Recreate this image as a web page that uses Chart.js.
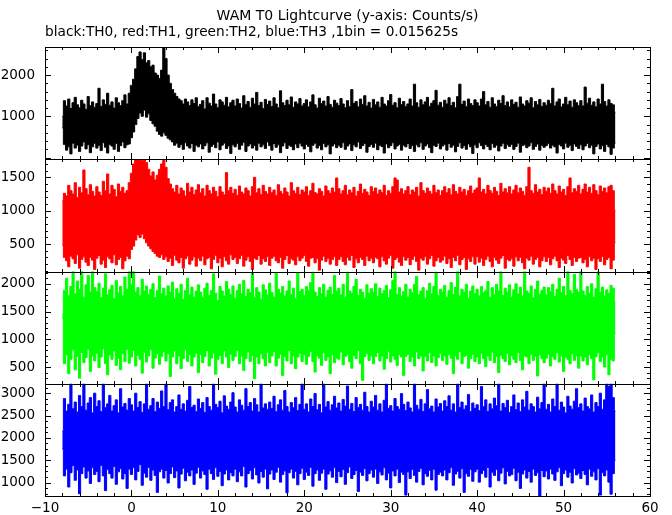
<!DOCTYPE html>
<html>
<head>
<meta charset="utf-8">
<script src="https://cdn.jsdelivr.net/npm/chart.js@4.4.1/dist/chart.umd.min.js"></script>
<style>
  html, body { margin: 0; padding: 0; background: #ffffff; }
  #wrap { position: relative; width: 672px; height: 515px; background: #ffffff; }
</style>
</head>
<body>
<div id="wrap"><canvas id="c" width="672" height="515"></canvas></div>
<script>
// ---------------- DATA ----------------
const TITLE = 'WAM T0 Lightcurve (y-axis: Counts/s)';
const SUBTITLE = 'black:TH0, red:TH1, green:TH2, blue:TH3 ,1bin = 0.015625s';

// light curve re-binned to 0.25 s columns; for each column the highest and lowest
// count rate seen in the picture (counts/s). First column at t = -8 s.
const T_START = -8;
const T_STEP = 0.25;

const th0High = [
1000,1380,1250,1420,1190,1330,1460,1280,1210,1390,1300,1170,1480,1260,1350,1220,
1310,1680,1240,1400,1290,1560,1270,1350,1200,1450,1330,1260,1380,1520,1300,1560,
1750,1900,2150,2450,2560,2380,2540,2300,2350,2200,2240,2050,2000,1920,2120,2680,
2400,2000,1800,1650,1560,1480,1420,1380,1300,1420,1350,1260,1400,1310,1450,1240,
1290,1380,1180,1450,1320,1250,1540,1300,1210,1400,1350,1270,1460,1230,1330,1390,
1250,1420,1310,1200,1500,1280,1360,1220,1440,1300,1580,1260,1340,1190,1410,1290,
1370,1240,1450,1300,1210,1620,1330,1260,1390,1280,1470,1220,1350,1300,1430,1250,
1310,1400,1230,1350,1520,1280,1200,1440,1310,1370,1250,1480,1290,1220,1390,1320,
1260,1430,1300,1210,1380,1240,1650,1310,1360,1230,1420,1290,1500,1250,1340,1200,
1410,1280,1350,1220,1460,1300,1250,1380,1530,1270,1330,1210,1440,1290,1360,1240,
1300,1420,1250,1780,1330,1220,1400,1280,1350,1460,1240,1320,1380,1630,1270,1340,
1220,1390,1300,1450,1260,1340,1210,1480,1780,1290,1370,1240,1420,1310,1260,1400,
1330,1250,1420,1600,1280,1360,1220,1450,1300,1240,1390,1310,1500,1260,1350,1230,
1400,1290,1340,1220,1470,1300,1250,1380,1320,1450,1210,1360,1280,1410,1240,1330,
1270,1390,1310,1680,1250,1350,1420,1230,1300,1460,1280,1370,1220,1400,1330,1260,
1380,1250,1710,1320,1440,1270,1350,1230,1420,1300,1780,1360,1250,1400,1310,1280,
1100
];
const th0Low = [
720,320,180,260,90,350,230,300,150,280,380,210,310,120,260,340,
230,300,170,360,250,110,320,280,200,340,150,290,380,240,310,330,
480,620,800,950,1080,1000,1150,980,1060,900,820,760,640,560,520,600,
540,470,430,380,300,350,250,320,200,360,280,230,340,150,300,260,
330,210,290,360,130,270,320,240,380,190,300,350,220,280,100,310,
260,340,200,300,370,150,280,330,230,290,180,350,260,310,220,380,
290,180,340,250,310,120,280,360,220,300,270,190,330,240,350,280,
210,320,270,140,300,350,230,290,190,340,260,310,90,280,330,240,
300,250,360,200,280,330,170,310,260,380,220,290,340,130,270,320,
250,350,190,300,270,110,330,240,290,360,210,280,320,180,300,260,
340,220,290,150,310,260,360,200,280,330,240,120,300,270,350,210,
280,320,180,340,250,300,140,270,360,230,290,200,330,260,100,310,
240,360,290,210,320,270,190,340,250,300,160,280,350,220,310,270,
320,200,270,350,130,290,310,240,280,360,200,270,330,180,300,250,
290,340,230,300,260,110,320,280,210,350,250,300,170,330,270,220,
310,190,280,340,240,300,90,270,330,210,290,150,320,260,80,230,
350
];

const th1High = [
1150,1260,1220,1380,1300,1250,1420,1200,1350,1270,1610,1330,1240,1390,1290,1220,
1360,1280,1230,1440,1300,1550,1250,1380,1320,1210,1400,1290,1350,1260,1300,1420,
1560,1700,1770,1770,1770,1750,1770,1720,1620,1520,1580,1460,1530,1620,1700,1760,
1650,1480,1400,1330,1280,1380,1250,1340,1300,1220,1410,1280,1350,1240,1310,1390,
1270,1330,1220,1380,1300,1250,1350,1290,1210,1360,1280,1240,1570,1300,1350,1260,
1320,1230,1370,1280,1250,1340,1300,1220,1360,1500,1270,1330,1240,1380,1290,1250,
1350,1270,1310,1230,1390,1290,1250,1340,1280,1220,1420,1300,1260,1350,1240,1310,
1280,1360,1230,1300,1410,1270,1250,1330,1290,1220,1370,1300,1260,1340,1280,1490,
1330,1250,1300,1380,1240,1310,1270,1350,1220,1290,1400,1260,1320,1280,1230,1360,
1290,1340,1250,1310,1270,1380,1230,1300,1260,1360,1490,1460,1280,1330,1250,1300,
1360,1240,1310,1280,1350,1220,1420,1300,1260,1340,1290,1250,1380,1270,1310,1230,
1300,1360,1270,1330,1240,1390,1290,1250,1350,1280,1320,1230,1300,1370,1260,1310,
1340,1490,1280,1320,1250,1380,1300,1260,1350,1290,1230,1410,1280,1330,1270,1360,
1250,1310,1380,1270,1340,1290,1230,1360,1650,1300,1260,1390,1280,1320,1240,1350,
1290,1340,1260,1400,1300,1250,1370,1280,1320,1230,1360,1490,1270,1330,1290,1380,
1250,1320,1400,1280,1350,1260,1390,1300,1240,1370,1290,1340,1270,1360,1380,1300,
1000
];
const th1Low = [
480,300,250,160,320,280,210,340,140,270,310,230,180,300,260,120,
290,330,200,260,150,310,280,220,340,190,270,300,130,250,320,280,
420,470,560,640,600,650,580,520,470,430,390,360,320,300,340,270,
310,240,290,180,330,260,220,300,140,280,320,200,260,310,170,290,
250,320,190,280,300,130,270,330,220,290,160,310,250,200,340,270,
300,210,280,330,170,260,310,240,120,290,270,330,200,280,240,310,
180,290,320,250,220,300,140,270,330,210,280,260,190,310,250,290,
330,240,170,290,300,220,280,110,260,320,240,290,200,270,310,180,
270,310,240,190,300,260,330,150,280,220,300,270,180,320,250,290,
220,300,280,160,310,250,200,290,330,140,270,300,230,180,310,260,
300,190,270,320,240,110,290,260,310,200,280,330,170,250,300,230,
260,320,210,280,150,300,250,330,190,270,300,120,280,240,310,200,
310,230,290,180,270,320,240,160,300,260,210,290,330,140,270,250,
280,170,310,250,300,220,130,290,260,320,200,270,300,160,250,310,
240,300,190,280,320,250,150,290,260,210,330,270,180,300,240,290,
300,220,270,160,310,250,290,120,280,240,310,190,270,300,130,260,
520
];

const th2High = [
1450,1880,2100,1790,1950,2220,1820,2050,1900,2220,1760,1980,2150,1850,2220,1930,
1860,2010,1750,1920,2180,1800,1890,1970,1730,2060,1840,1950,1780,2120,1900,2220,
1990,2220,1850,1930,1780,2080,1870,1960,1810,1900,2000,1750,1880,2140,1820,1920,
1780,1960,1850,2030,1740,1910,1830,1990,1720,1880,2100,1800,1940,1760,1870,1980,
1850,1760,1920,2010,1790,1880,2180,1830,1700,1950,1870,1780,2040,1900,1810,1960,
1740,1880,1990,1820,2060,1770,1900,1840,2200,1760,1930,1850,1720,1980,1890,1800,
2010,1840,1760,2190,1900,1830,1950,1780,1870,2050,1810,1920,1740,2200,1860,1900,
1790,1950,1880,2020,2210,1850,1770,1930,1820,1990,1760,1880,1940,1810,2150,1870,
1920,1800,1990,1760,2210,1870,1830,1950,2080,1790,1900,1850,1740,1980,1830,1910,
1850,2000,1770,1920,1820,1880,1970,1750,1890,2060,2220,1810,1930,1780,1860,1990,
1760,1900,1840,1990,2130,1800,1870,1930,1740,1880,2010,1820,1950,2210,1790,1900,
1850,1970,1760,1880,2020,1810,1940,2220,1780,1900,1850,1990,1740,1870,1960,1820,
1900,1780,1950,1840,1880,2040,1760,1930,1810,1990,1870,2220,1790,1920,1850,1980,
1760,1890,2000,1820,1940,1780,2220,1870,1830,1960,1750,1900,2050,1810,1880,1940,
1800,1930,1860,1990,1770,1900,2100,1840,1950,1790,2220,1880,1820,2170,1900,1850,
2220,1870,1790,1950,1830,2000,1760,1910,2220,1850,1940,1780,1890,1830,1970,1920,
1660
];
const th2Low = [
1380,560,720,380,640,810,450,690,300,760,580,670,820,420,700,610,
750,490,680,830,560,360,720,640,790,530,660,450,740,600,820,570,
680,800,520,710,640,390,760,590,700,820,480,660,740,550,690,780,
610,740,330,680,790,560,700,470,650,810,600,720,520,680,750,400,
720,580,690,800,520,660,750,370,640,710,560,790,680,490,730,620,
690,800,560,700,440,650,770,600,710,290,680,560,740,650,520,760,
580,700,780,520,660,730,350,690,610,800,560,700,470,680,750,600,
720,550,690,780,600,410,700,660,530,760,620,690,380,720,580,660,
640,770,540,690,720,600,480,710,650,800,560,260,690,740,620,700,
560,690,760,610,700,460,650,780,590,700,640,530,720,680,350,690,
730,600,680,520,770,650,700,430,690,610,760,580,700,520,670,740,
620,700,550,720,660,380,700,640,780,560,690,710,480,650,730,600,
680,560,740,650,510,700,620,770,580,690,400,710,650,600,740,540,
700,640,580,760,620,450,700,680,560,730,620,690,340,720,650,580,
660,730,520,690,640,760,590,700,420,680,640,560,740,620,700,480,
700,610,680,540,720,650,270,690,760,600,680,500,720,360,640,610,
1100
];

const th3High = [
2150,2880,2600,2750,3210,2650,2800,2580,2950,2700,3210,2620,2780,2900,2560,3000,
2700,2830,2590,3210,2680,2760,2950,2600,2720,2850,2560,3100,2690,2770,2620,2880,
2740,2600,3000,2680,2810,2570,2760,3210,2640,2720,2880,2590,2800,2660,3050,2700,
3210,2630,2790,2850,2580,2700,2960,2640,2760,2600,2840,3150,2680,2730,2590,2870,
2660,2790,2570,2900,2700,2620,3210,2750,2680,2820,2560,2940,2710,2640,2800,3010,
2690,2580,2850,2730,2620,3100,2700,2790,2600,2880,2740,2580,3210,2670,2760,2640,
2800,2660,2930,2590,2740,2850,2620,3060,2700,2580,2790,2680,2900,2610,2750,3210,
2640,2760,2580,2870,2700,2990,2630,2750,2560,3210,2690,2810,2620,2740,2930,2670,
2780,2600,2860,2710,3160,2640,2770,2590,2900,2680,2750,2620,3020,2700,2580,2820,
2690,2950,2620,2760,2580,2840,3210,2660,2720,2600,2880,2700,2640,2990,2750,2610,
2800,2670,2580,3210,2730,2640,2860,2590,2760,3080,2650,2710,2580,2870,2690,2770,
2600,2830,2700,2940,2620,2760,2580,3210,2680,2800,2640,2720,2970,2590,2780,2660,
2740,2610,3150,2700,2850,2590,2760,2650,2890,2720,3210,2600,2770,2680,2840,2570,
2700,2960,2630,2780,2590,2850,2690,3040,2620,2760,2700,2580,2910,2650,2790,3210,
2640,2750,2580,2870,2700,3210,2620,2800,2690,2560,2930,2710,2640,2820,3100,2680,
2760,2600,2890,2700,2650,2960,2580,2790,2700,3000,2640,2850,3210,3150,3210,2900,
2600
];
const th3Low = [
1750,1150,1300,900,1220,1380,1050,1280,750,1200,1350,1100,1260,980,1330,1180,
1250,1020,1380,1150,820,1290,1200,1100,1360,960,1240,1310,1080,1200,870,1300,
1180,1330,1060,1250,1400,940,1210,1120,1340,1050,1280,1160,780,1240,1300,1100,
1270,990,1200,1350,1110,1260,880,1190,1320,1040,1230,1150,1280,960,1210,1340,
1100,1260,1180,850,1300,1200,1070,1330,1140,1250,930,1190,1280,1060,1220,1150,
1300,1020,1240,1150,1360,900,1200,1270,1080,1330,1170,990,1250,1120,1300,860,
1190,1280,1070,1230,1340,1010,1180,1260,770,1220,1300,1100,1250,950,1200,1320,
1070,1230,1160,1340,920,1200,1280,1050,1210,1300,850,1190,1260,1120,1330,1000,
1250,1130,1290,960,1220,1350,1090,1180,1270,800,1230,1160,1310,1040,1200,1280,
1120,1300,980,1240,1170,1330,1060,1210,880,1260,1150,1300,1000,1230,1180,720,
1240,1090,1290,1160,1010,1250,1320,950,1200,1140,1270,1060,1300,830,1180,1230,
1150,1280,1060,1220,1330,940,1190,1250,1100,1310,780,1200,1140,1290,1030,1240,
1300,1010,1200,1270,1120,1340,900,1230,1160,1290,1040,1210,1330,970,1250,1150,
1180,1320,1040,1230,870,1190,1280,1100,1250,1010,1300,1160,1220,700,1270,1130,
1260,1080,1300,1190,1050,1240,1330,930,1200,1280,1120,1230,990,1310,1170,1210,
1090,1270,1180,950,1300,1140,1240,1060,1310,720,1220,1150,1280,1010,740,1200,
1500
];

// axis ranges and tick labels per panel (top to bottom)
const X_MIN = -10, X_MAX = 60, X_LABEL_STEP = 10, X_MINOR = 2;
const yMin = [-40, 90, 200, 700];
const yMax = [2680, 1770, 2220, 3210];
const yTickLabels = [
  [1000, 2000],
  [500, 1000, 1500],
  [500, 1000, 1500, 2000],
  [1000, 1500, 2000, 2500, 3000]
];
const yMajorStep = [1000, 500, 500, 500];
const yMinorStep = [200, 100, 100, 125];

// ---------------- STYLE ----------------
const seriesColors = ['#000000', '#ff0000', '#00ff00', '#0000ff'];
const FONT = 'DejaVu Sans';

const highs = [th0High, th1High, th2High, th3High];
const lows = [th0Low, th1Low, th2Low, th3Low];

function toPoints(arr) {
  return arr.map((v, i) => ({ x: T_START + i * T_STEP, y: v }));
}

const datasets = [];
highs.forEach((hi, k) => {
  const axis = 'y' + k;
  datasets.push({
    data: toPoints(hi), yAxisID: axis, xAxisID: 'x',
    borderColor: seriesColors[k], backgroundColor: seriesColors[k],
    borderWidth: 1, pointRadius: 0, stepped: 'middle', fill: '+1', tension: 0
  });
  datasets.push({
    data: toPoints(lows[k]), yAxisID: axis, xAxisID: 'x',
    borderColor: seriesColors[k], backgroundColor: seriesColors[k],
    borderWidth: 1, pointRadius: 0, stepped: 'middle', fill: false, tension: 0
  });
});

const tickFont = { family: FONT, size: 13.5, weight: 'normal' };

const scales = {
  x: {
    type: 'linear', position: 'bottom', min: X_MIN, max: X_MAX,
    grid: { display: false, drawTicks: false }, border: { display: false },
    ticks: {
      stepSize: X_LABEL_STEP, padding: 4, color: '#000', font: tickFont, autoSkip: false,
      maxRotation: 0,
      callback: v => (v < 0 ? '\u2212' + Math.abs(v) : String(v))
    },
    afterFit: s => { s.height = 19; }
  }
};
yTickLabels.forEach((labels, k) => {
  scales['y' + k] = {
    type: 'linear', position: 'left', stack: 'panels', stackWeight: 1, weight: 4 - k,
    min: yMin[k], max: yMax[k],
    grid: { display: false, drawTicks: false }, border: { display: false },
    ticks: { autoSkip: false, padding: 10, color: '#000', font: tickFont, callback: v => String(v) },
    afterBuildTicks: s => { s.ticks = labels.map(v => ({ value: v })); },
    afterFit: s => { s.width = 45; }
  };
});

// frame and inward tick marks of each panel, placed through the chart's scales
const framePlugin = {
  id: 'panelFrames',
  afterDatasetsDraw(chart) {
    const ctx = chart.ctx;
    const xs = chart.scales.x;
    const L = Math.round(xs.left), R = Math.round(xs.right);
    ctx.save();
    ctx.strokeStyle = '#000';
    ctx.lineWidth = 1;
    yTickLabels.forEach((_, k) => {
      const ys = chart.scales['y' + k];
      const T = Math.round(ys.top), B = Math.round(ys.bottom);
      ctx.strokeRect(L + 0.5, T + 0.5, R - L, B - T);
      ctx.beginPath();
      for (let v = X_MIN; v <= X_MAX + 1e-9; v += X_MINOR) {
        const px = Math.round(xs.getPixelForValue(v)) + 0.5;
        const len = (Math.abs(v % X_LABEL_STEP) < 1e-9) ? 6 : 3;
        ctx.moveTo(px, T); ctx.lineTo(px, T + len);
        ctx.moveTo(px, B); ctx.lineTo(px, B - len);
      }
      const step = yMinorStep[k];
      for (let v = Math.ceil(yMin[k] / step) * step; v <= yMax[k]; v += step) {
        const py = Math.round(ys.getPixelForValue(v)) + 0.5;
        const len = (v % yMajorStep[k] === 0) ? 6 : 3;
        ctx.moveTo(L, py); ctx.lineTo(L + len, py);
        ctx.moveTo(R, py); ctx.lineTo(R - len, py);
      }
      ctx.stroke();
    });
    ctx.restore();
  }
};

new Chart(document.getElementById('c'), {
  type: 'line',
  data: { datasets },
  options: {
    responsive: false,
    devicePixelRatio: 1,
    animation: false,
    events: [],
    layout: { padding: { left: 0, right: 22, top: 0, bottom: 0 } },
    scales,
    plugins: {
      legend: { display: false },
      tooltip: { enabled: false },
      title: {
        display: true, text: TITLE, align: 'center', fullSize: false, color: '#000',
        font: { family: FONT, size: 14, weight: 'normal', lineHeight: '16px' },
        padding: { top: 8, bottom: 0 }
      },
      subtitle: {
        display: true, text: SUBTITLE, align: 'start', fullSize: false, color: '#000',
        font: { family: FONT, size: 13.7, weight: 'normal', lineHeight: '16px' },
        padding: { top: 0, bottom: 7 }
      }
    }
  },
  plugins: [framePlugin]
});
</script>
</body>
</html>
